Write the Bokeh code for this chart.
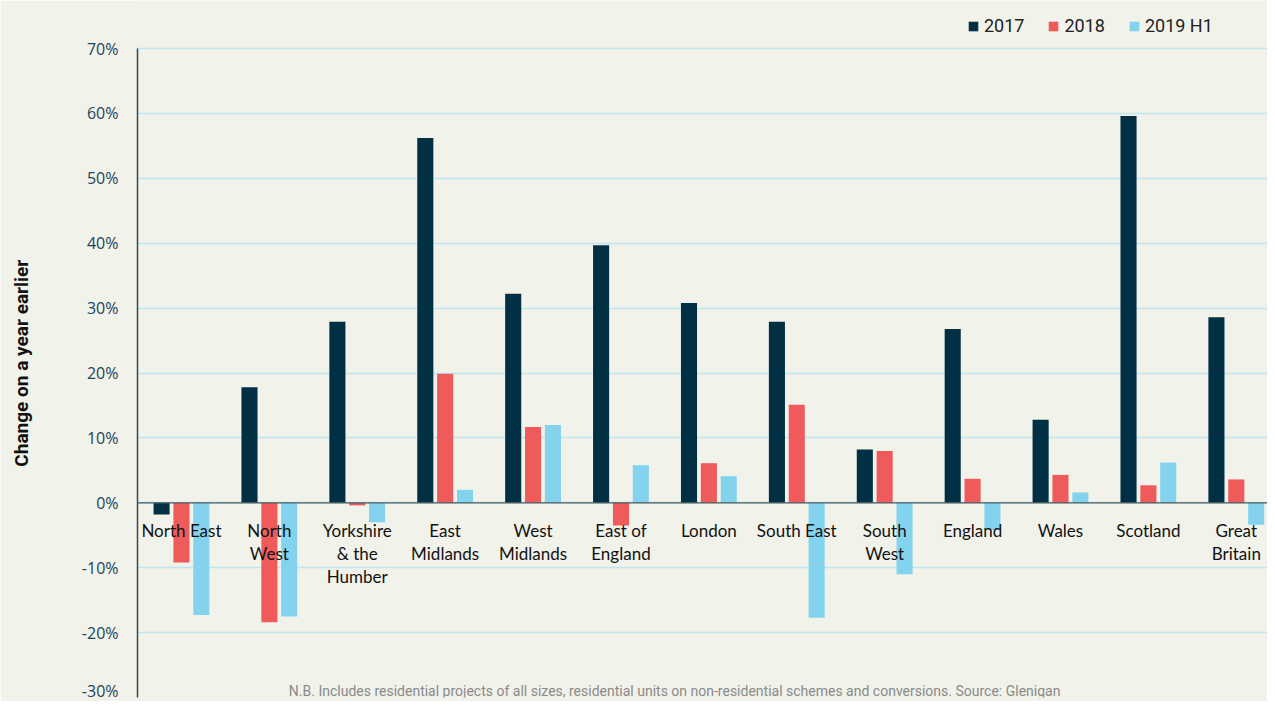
from bokeh.plotting import figure
from bokeh.models import (ColumnDataSource, Range1d, FixedTicker, PrintfTickFormatter,
                          Legend, LegendItem, Label, Span)
from bokeh.transform import dodge
from bokeh.core.properties import value
from bokeh.embed import file_html
from bokeh.resources import INLINE

categories = ["North East", "North\nWest", "Yorkshire\n& the\nHumber", "East\nMidlands",
              "West\nMidlands", "East of\nEngland", "London", "South East", "South\nWest",
              "England", "Wales", "Scotland", "Great\nBritain"]
v2017 = [-1.8, 17.8, 27.9, 56.2, 32.2, 39.7, 30.8, 27.9, 8.2, 26.8, 12.8, 59.6, 28.6]
v2018 = [-9.2, -18.4, -0.4, 19.9, 11.7, -3.5, 6.1, 15.1, 8.0, 3.7, 4.3, 2.7, 3.6]
v2019h1 = [-17.3, -17.5, -3.0, 2.0, 12.0, 5.8, 4.1, -17.7, -11.0, -4.2, 1.6, 6.2, -3.4]
series_names = ["2017", "2018", "2019 H1"]
yticks = [-30, -20, -10, 0, 10, 20, 30, 40, 50, 60, 70]
footnote = ("N.B. Includes residential projects of all sizes, residential units on "
            "non-residential schemes  and conversions.  Source: Glenigan")
ylabel = "Change on a year earlier"

BG = "#F1F2EA"
COLORS = ["#013044", "#EF5B5B", "#84D3EE"]
NARROW = "Roboto"

xs = list(range(len(categories)))
src = ColumnDataSource(dict(x=xs, cat=categories, zero=[0] * len(xs),
                            a=v2017, b=v2018, c=v2019h1))

# frame spans the full height; the top part above 70% holds the legend
p = figure(width=1267, height=701, output_backend="svg", toolbar_location=None,
           x_range=Range1d(-0.5, 12.355), y_range=Range1d(-30, 77.4),
           min_border_left=137, min_border_right=0, min_border_top=0, min_border_bottom=4)
p.background_fill_color = BG
p.border_fill_color = BG
p.outline_line_color = None

# grid
p.xgrid.visible = False
p.ygrid.grid_line_color = "#BEE5F0"
p.ygrid.grid_line_width = 1.5
p.ygrid.ticker = FixedTicker(ticks=yticks)

# axes
p.xaxis.visible = False
ya = p.yaxis[0]
ya.ticker = FixedTicker(ticks=yticks)
ya.bounds = (yticks[0], yticks[-1])
ya.formatter = PrintfTickFormatter(format="%d%%")
ya.major_tick_line_color = None
ya.minor_tick_line_color = None
ya.major_tick_out = 0
ya.major_tick_in = 0
ya.major_label_standoff = 19
ya.major_label_text_font = "Open Sans"
ya.major_label_text_font_size = "16px"
ya.major_label_text_color = "#1B4458"
ya.axis_line_color = "#444444"
ya.axis_line_width = 1.5
# non-breaking spaces shift the rotated title down to sit centred on the -30..70 span
ya.axis_label = ylabel + "\u00a0" * 6
ya.axis_label_text_font = NARROW
ya.axis_label_text_font_style = "bold"
ya.axis_label_text_font_size = "19px"
ya.axis_label_text_color = "#111111"
ya.axis_label_standoff = 46

w = 0.183
off = 0.226
r1 = p.vbar(x=dodge("x", -off), top="a", width=w, source=src, fill_color=COLORS[0], line_color=None)
r2 = p.vbar(x=dodge("x", 0), top="b", width=w, source=src, fill_color=COLORS[1], line_color=None)
r3 = p.vbar(x=dodge("x", off), top="c", width=w, source=src, fill_color=COLORS[2], line_color=None)

# zero line
p.add_layout(Span(location=0, dimension="width", line_color="#4A5A60", line_width=1.2))

# category labels
p.text(x="x", y="zero", text="cat", source=src, text_align="center", text_baseline="top",
       y_offset=17, text_font=value("Lato"), text_font_size="17px", text_color="#111111",
       text_line_height=1.1)

legend = Legend(items=[LegendItem(label=series_names[0], renderers=[r1]),
                       LegendItem(label=series_names[1], renderers=[r2]),
                       LegendItem(label=series_names[2], renderers=[r3])],
                orientation="horizontal", location=(830, 661),
                background_fill_alpha=0, border_line_color=None, padding=0, margin=0,
                glyph_width=12, glyph_height=12, label_standoff=5, spacing=23,
                label_text_font=NARROW, label_text_font_size="18px", label_text_color="#222222")
p.add_layout(legend, "center")

p.add_layout(Label(x=5.65, y=-30, text=footnote, text_align="center", text_baseline="middle",
                   y_offset=7, text_font=NARROW, text_font_size="14px", text_color="#8A8A8A"))

open("out.html", "w").write(file_html(p, INLINE))
